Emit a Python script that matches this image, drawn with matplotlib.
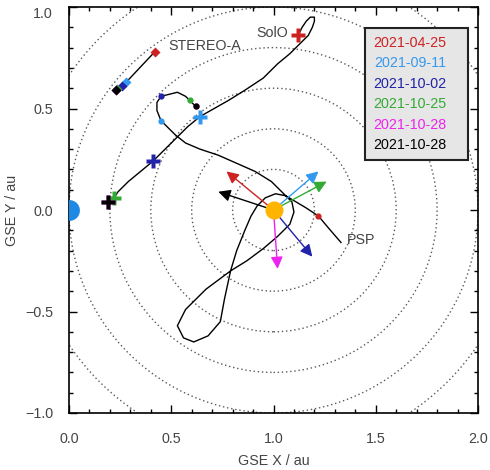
import matplotlib
matplotlib.use("Agg")
import matplotlib.pyplot as plt
from matplotlib.patches import Circle
from matplotlib.lines import Line2D
from matplotlib.ticker import MultipleLocator

plt.rcParams['font.family'] = ['Liberation Sans', 'DejaVu Sans']

# dates / colours of the snapshots
dates = ['2021-04-25', '2021-09-11', '2021-10-02', '2021-10-25', '2021-10-28', '2021-10-28']
colors = ['#CC2222', '#3399EE', '#2222AA', '#33AA33', '#EE22EE', '#000000']

# reference circles around the Sun (au)
radii = [0.2, 0.4, 0.6, 0.8, 1.0, 1.2]

# PSP trajectory (GSE x, y)
psp_x = [1.33, 1.27, 1.22, 1.16, 1.11, 1.06, 1.01, 0.96, 0.92, 0.89, 0.86, 0.82, 0.79,
         0.76, 0.74, 0.68, 0.61, 0.56, 0.53, 0.57, 0.67, 0.79, 0.87, 0.95, 1.02, 1.08,
         1.10, 1.09, 1.05, 0.99, 0.91, 0.82, 0.73, 0.64, 0.57, 0.52, 0.48, 0.45, 0.43,
         0.43, 0.45, 0.49, 0.53, 0.57, 0.59, 0.62]
psp_y = [-0.16, -0.09, -0.03, 0.01, 0.04, 0.07, 0.08, 0.06, 0.02, -0.03, -0.10, -0.20, -0.30,
         -0.44, -0.55, -0.62, -0.65, -0.63, -0.57, -0.49, -0.39, -0.30, -0.25, -0.19, -0.13, -0.07,
         -0.01, 0.04, 0.08, 0.14, 0.19, 0.23, 0.27, 0.30, 0.33, 0.37, 0.41, 0.44, 0.49,
         0.53, 0.56, 0.57, 0.58, 0.56, 0.54, 0.51]
psp_mx = [1.22, 0.45, 0.45, 0.59, 0.62, 0.62]
psp_my = [-0.03, 0.44, 0.56, 0.54, 0.51, 0.51]

# Solar Orbiter trajectory
solo_x = [1.12, 1.14, 1.16, 1.18, 1.20, 1.20, 1.19, 1.17, 1.13, 1.08, 1.02, 0.95, 0.86,
          0.78, 0.71, 0.64, 0.58, 0.52, 0.46, 0.41, 0.35, 0.29, 0.24, 0.22, 0.19]
solo_y = [0.86, 0.90, 0.93, 0.95, 0.95, 0.93, 0.90, 0.86, 0.82, 0.77, 0.72, 0.65, 0.59,
          0.54, 0.50, 0.46, 0.41, 0.35, 0.29, 0.24, 0.19, 0.14, 0.09, 0.06, 0.04]
solo_mx = [1.12, 0.64, 0.41, 0.22, 0.19, 0.19]
solo_my = [0.86, 0.46, 0.24, 0.06, 0.04, 0.04]

# STEREO-A positions
sta_x = [0.42, 0.28, 0.26, 0.235, 0.23, 0.23]
sta_y = [0.78, 0.63, 0.61, 0.595, 0.59, 0.59]

# arrow tips from the Sun
arr_x = [0.77, 1.22, 1.19, 1.26, 1.02, 0.73]
arr_y = [0.19, 0.19, -0.23, 0.14, -0.29, 0.09]

sun = (1.0, 0.0)
earth = (0.0, 0.0)

txt = '#444444'

fig = plt.figure(figsize=(4.9, 4.7), dpi=100)
ax = fig.add_axes([69 / 490, 1 - 413 / 470, 409 / 490, 406 / 470])

for r in radii:
    ax.add_patch(Circle(sun, r, fill=False, ls=(0, (1, 2)), lw=1.0, color='0.35', zorder=1))

ax.plot(psp_x, psp_y, color='black', lw=1.0, zorder=2)
ax.plot(solo_x, solo_y, color='black', lw=1.0, zorder=2)
ax.plot(sta_x, sta_y, color='black', lw=1.0, zorder=2)

for i, c in enumerate(colors):
    ax.plot(psp_mx[i], psp_my[i], 'o', color=c, ms=4.5, mec='none', zorder=3)
    ax.plot(solo_mx[i], solo_my[i], 'P', color=c, ms=10.5, mec='none', zorder=3)
    ax.plot(sta_x[i], sta_y[i], 'D', color=c, ms=5, mec='none', zorder=3)
    ax.annotate('', xy=(arr_x[i], arr_y[i]), xytext=sun,
                arrowprops=dict(arrowstyle='-|>', mutation_scale=18, color=c, lw=1.0,
                                shrinkA=0, shrinkB=0), zorder=4)

ax.plot(*sun, 'o', color='#FFB400', ms=13, mec='none', zorder=5)
ax.plot(*earth, 'o', color='#1E88E5', ms=15, mec='none', zorder=5)

ax.text(0.485, 0.81, 'STEREO-A', color=txt, fontsize=10.3, va='center')
ax.text(0.915, 0.87, 'SolO', color=txt, fontsize=10.3, va='center')
ax.text(1.36, -0.15, 'PSP', color=txt, fontsize=10.3, va='center')

handles = [Line2D([], [], ls='none') for d in dates]
leg = ax.legend(handles, dates, loc='upper right', bbox_to_anchor=(0.976, 0.948),
                borderaxespad=0, handlelength=1.0, handletextpad=0, markerfirst=False,
                fontsize=10.3, labelspacing=0.45, borderpad=0.55, fancybox=False,
                framealpha=1, facecolor='#E6E6E6', edgecolor='#222222')
leg.get_frame().set_linewidth(1.5)
for t, c in zip(leg.get_texts(), colors):
    t.set_color(c)

ax.set_xlim(0, 2)
ax.set_ylim(-1, 1)
ax.xaxis.set_major_locator(MultipleLocator(0.5))
ax.yaxis.set_major_locator(MultipleLocator(0.5))
ax.xaxis.set_minor_locator(MultipleLocator(0.1))
ax.yaxis.set_minor_locator(MultipleLocator(0.1))
ax.tick_params(which='both', direction='in', top=True, right=True, labelsize=10.3,
               labelcolor=txt, width=1.0)
ax.tick_params(which='major', length=6)
ax.tick_params(which='minor', length=3)
ax.tick_params(axis='x', pad=13.5)
ax.tick_params(axis='y', pad=11.5)
for s in ax.spines.values():
    s.set_linewidth(1.2)

ax.set_xlabel('GSE X / au', color=txt, fontsize=10.3, labelpad=6)
ax.set_ylabel('GSE Y / au', color=txt, fontsize=10.3, labelpad=4)

# top y label sits just below the frame, as in the original
fig.canvas.draw()
for lab in ax.get_yticklabels():
    if lab.get_text() == '1.0':
        lab.set_va('top')

fig.savefig('out.png', dpi=100)
